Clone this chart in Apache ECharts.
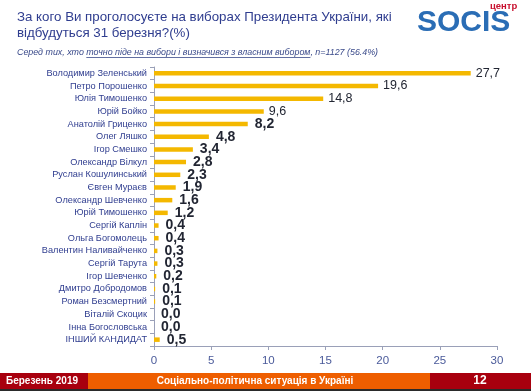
<!DOCTYPE html>
<html><head><meta charset="utf-8">
<script src="https://cdn.jsdelivr.net/npm/echarts@6/dist/echarts.min.js"></script>
<style>html,body{margin:0;padding:0;background:#fff}#c{width:531px;height:391px}</style>
</head><body><div id="c"></div>
<script>
const categories = ["Володимир Зеленський","Петро Порошенко","Юлія Тимошенко","Юрій Бойко","Анатолій Гриценко","Олег Ляшко","Ігор Смешко","Олександр Вілкул","Руслан Кошулинський","Євген Мураєв","Олександр Шевченко","Юрій Тимошенко","Сергій Каплін","Ольга Богомолець","Валентин Наливайченко","Сергій Тарута","Ігор Шевченко","Дмитро Добродомов","Роман Безсмертний","Віталій Скоцик","Інна Богословська","ІНШИЙ КАНДИДАТ"];
const values = [27.7,19.6,14.8,9.6,8.2,4.8,3.4,2.8,2.3,1.9,1.6,1.2,0.4,0.4,0.3,0.3,0.2,0.1,0.1,0.0,0.0,0.5];
const xTicks = [0,5,10,15,20,25,30];

const font = 'Liberation Sans, Arial, sans-serif';
const subPre = 'Серед тих, хто ';
const subUnder = 'точно піде на вибори і визначився з власним вибором';
const subPost = ', n=1127 (56.4%)';
const subFont = 'italic 8.9px ' + font;
const mctx = document.createElement('canvas').getContext('2d');
mctx.font = subFont;
const uStart = 17 + mctx.measureText(subPre).width;
const uEnd = uStart + mctx.measureText(subUnder).width;

const chart = echarts.init(document.getElementById('c'), null, {renderer:'canvas'});
chart.setOption({
  animation:false,
  textStyle:{fontFamily:font},
  grid:{left:154,right:34,top:67,bottom:45,containLabel:false},
  xAxis:{type:'value',min:xTicks[0],max:xTicks[xTicks.length-1],interval:5,
    axisLine:{show:true,lineStyle:{color:'#9aa0b8',width:1}},
    axisTick:{show:true,length:4,lineStyle:{color:'#9aa0b8'}},
    splitLine:{show:false},
    axisLabel:{color:'#4a5a9a',fontSize:11.5,margin:9,fontFamily:font}},
  yAxis:{type:'category',data:categories,inverse:true,
    axisLine:{show:true,lineStyle:{color:'#9aa0b8',width:1}},
    axisTick:{show:true,length:4,interval:0,lineStyle:{color:'#9aa0b8'}},
    axisLabel:{color:'#2f3d8f',fontSize:9.2,margin:7,interval:0,fontFamily:font}},
  series:[{type:'bar',data:values.map(v=>({value:v,
      label:{show:true,position:'right',distance:v>=9?5:7,
        formatter:p=>p.value.toFixed(1).replace('.',','),
        fontFamily:font,color:'#222633',
        fontSize:v>=9?12.5:14,fontWeight:v>=9?'normal':'bold'}})),
    barWidth:4.5,
    itemStyle:{color:'#f4b800'}
  }],
  graphic:[
    {type:'text',left:17,top:9,style:{text:'За кого Ви проголосуєте на виборах Президента України, які\nвідбудуться 31 березня?(%)',fill:'#2f3d8f',font:'13.3px '+font,lineHeight:16}},
    {type:'text',left:17,top:48,style:{text:subPre+subUnder+subPost,fill:'#3a4a8a',font:subFont}},
    {type:'line',shape:{x1:uStart,y1:57.5,x2:uEnd,y2:57.5},style:{stroke:'#3a4a8a',lineWidth:0.8}},
    {type:'text',left:417,top:8,style:{text:'SOCIS',fill:'#2a6db5',font:'bold 30px '+font}},
    {type:'text',left:490,top:1,style:{text:'центр',fill:'#c8102e',font:'bold 9.5px '+font}},
    {type:'rect',shape:{x:0,y:373,width:531,height:16},style:{fill:'#a8000e'}},
    {type:'rect',shape:{x:88,y:373,width:342,height:16},style:{fill:'#ee5e00'}},
    {type:'rect',shape:{x:0,y:389,width:531,height:2},style:{fill:'#2a2a2a'}},
    {type:'text',left:6,top:376,style:{text:'Березень 2019',fill:'#fff',font:'bold 10px '+font}},
    {type:'text',x:255,y:376,style:{text:'Соціально-політична ситуація в Україні',fill:'#fff',font:'bold 10px '+font,align:'center'}},
    {type:'text',x:480,y:375,style:{text:'12',fill:'#fff',font:'bold 12px '+font,align:'center'}}
  ]
});
</script></body></html>
